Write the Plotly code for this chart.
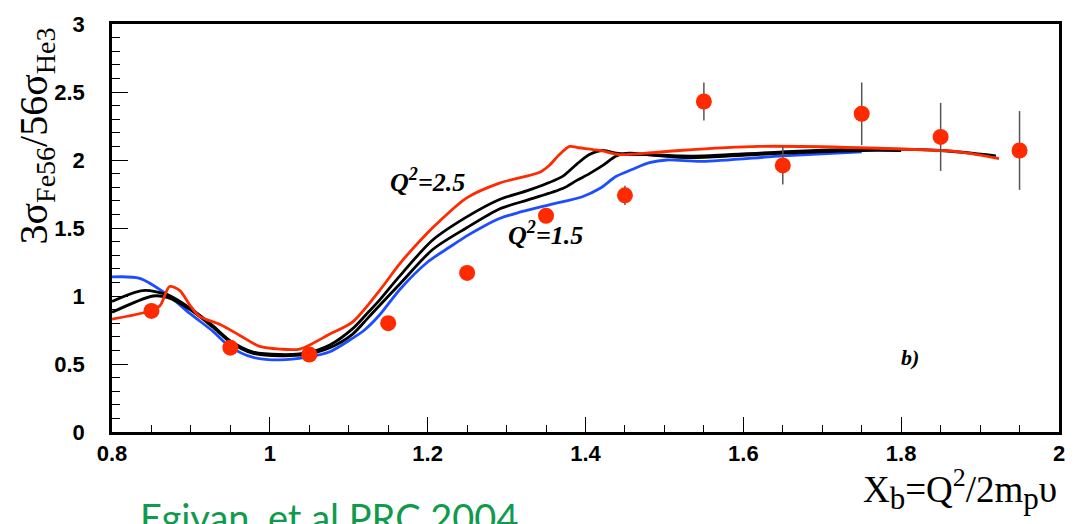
import plotly.graph_objects as go

# ---- data points (Fe56/He3 ratio) ----
data_x = [0.85, 0.95, 1.05, 1.15, 1.25, 1.35, 1.45, 1.55, 1.65, 1.75, 1.85, 1.95]
data_y = [0.89, 0.62, 0.57, 0.80, 1.17, 1.59, 1.74, 2.43, 1.96, 2.34, 2.17, 2.07]
data_err = [0.02, 0.02, 0.02, 0.02, 0.02, 0.02, 0.07, 0.14, 0.14, 0.23, 0.25, 0.29]

# ---- model curves ----
red_x = [0.8, 0.848, 0.861, 0.873, 0.886, 0.899, 0.911, 0.937, 0.962, 0.987, 1.013, 1.038,
         1.076, 1.105, 1.139, 1.165, 1.199, 1.215, 1.249, 1.291, 1.342, 1.354, 1.367, 1.380,
         1.392, 1.418, 1.443, 1.477, 1.519, 1.620, 1.747, 1.873, 1.924]
red_y = [0.83, 0.89, 0.93, 1.07, 1.04, 0.93, 0.85, 0.79, 0.71, 0.63, 0.61, 0.61,
         0.72, 0.81, 1.04, 1.24, 1.46, 1.55, 1.72, 1.83, 1.91, 1.96, 2.04, 2.10,
         2.09, 2.07, 2.04, 2.05, 2.07, 2.10, 2.09, 2.06, 2.01]

black1_x = [0.8, 0.839, 0.870, 0.899, 0.928, 0.95, 0.978, 1.013, 1.045, 1.076, 1.105, 1.123,
            1.139, 1.165, 1.206, 1.249, 1.291, 1.329, 1.371, 1.389, 1.405, 1.422, 1.439,
            1.456, 1.477, 1.519, 1.55, 1.65, 1.75, 1.85, 1.92]
black1_y = [0.96, 1.04, 1.01, 0.91, 0.78, 0.67, 0.59, 0.57, 0.58, 0.64, 0.76, 0.87,
            0.97, 1.15, 1.41, 1.58, 1.71, 1.78, 1.88, 1.97, 2.04, 2.07, 2.05,
            2.04, 2.04, 2.03, 2.03, 2.06, 2.08, 2.07, 2.03]

black2_x = [0.8, 0.852, 0.870, 0.899, 0.928, 0.95, 0.978, 1.013, 1.045, 1.076, 1.105, 1.123,
            1.139, 1.165, 1.206, 1.249, 1.291, 1.329, 1.371, 1.389, 1.405, 1.422, 1.439,
            1.456, 1.477, 1.519, 1.55, 1.65, 1.75, 1.80]
black2_y = [0.88, 1.00, 0.99, 0.90, 0.77, 0.66, 0.58, 0.56, 0.57, 0.62, 0.72, 0.83,
            0.93, 1.09, 1.34, 1.50, 1.64, 1.71, 1.79, 1.85, 1.90, 1.96, 2.03,
            2.05, 2.04, 2.02, 2.02, 2.05, 2.07, 2.07]

blue_x = [0.8, 0.835, 0.87, 0.899, 0.928, 0.949, 0.978, 1.013, 1.047, 1.076, 1.105, 1.120,
          1.139, 1.165, 1.2, 1.228, 1.249, 1.270, 1.291, 1.313, 1.354, 1.396, 1.418, 1.439,
          1.459, 1.481, 1.503, 1.548, 1.65, 1.75]
blue_y = [1.14, 1.13, 1.01, 0.87, 0.74, 0.63, 0.55, 0.53, 0.55, 0.59, 0.69, 0.75,
          0.86, 1.05, 1.25, 1.36, 1.44, 1.51, 1.57, 1.61, 1.67, 1.73, 1.79, 1.88,
          1.93, 1.98, 2.00, 1.99, 2.03, 2.06]

x_ticks = [0.8, 1.0, 1.2, 1.4, 1.6, 1.8, 2.0]
x_ticklabels = ["0.8", "1", "1.2", "1.4", "1.6", "1.8", "2"]
y_ticks = [0, 0.5, 1, 1.5, 2, 2.5, 3]
y_ticklabels = ["0", "0.5", "1", "1.5", "2", "2.5", "3"]

RED = "#ff2a00"
BLUE = "#1e4dff"

fig = go.Figure()

for xs, ys, col in [(blue_x, blue_y, BLUE), (black2_x, black2_y, "black"),
                    (black1_x, black1_y, "black"), (red_x, red_y, RED)]:
    fig.add_trace(go.Scatter(x=xs, y=ys, mode="lines",
                             line=dict(color=col, width=2.8, shape="spline", smoothing=0.8),
                             showlegend=False, hoverinfo="skip"))

fig.add_trace(go.Scatter(
    x=data_x, y=data_y, mode="markers",
    marker=dict(color=RED, size=16, line=dict(width=0)),
    error_y=dict(type="data", array=data_err, visible=True, color="#555555",
                 thickness=1.5, width=0),
    showlegend=False))

axis_common = dict(
    showgrid=False, zeroline=False, showline=True, linecolor="black", linewidth=2.5,
    mirror=True, ticks="inside", tickcolor="black", tickwidth=1.3,
    tickfont=dict(family="Liberation Sans", size=22, color="black", weight="bold"),
)

fig.update_xaxes(range=[0.8, 2.0], tickvals=x_ticks, ticktext=x_ticklabels, ticklen=15,
                 ticklabelstandoff=0,
                 minor=dict(dtick=0.05, ticks="inside", ticklen=7, tickcolor="black", tickwidth=1.3),
                 **axis_common)
fig.update_yaxes(range=[0, 3], tickvals=y_ticks, ticktext=y_ticklabels, ticklen=16,
                 ticklabelstandoff=20,
                 minor=dict(dtick=0.1, ticks="inside", ticklen=8, tickcolor="black", tickwidth=1.3),
                 **axis_common)

serif = "Liberation Serif"
annotations = [
    dict(x=1.20, y=1.85, xref="x", yref="y", showarrow=False,
         xanchor="center", yanchor="middle",
         text="<b><i>Q<sup>2</sup>=2.5</i></b>", font=dict(family=serif, size=26, color="black")),
    dict(x=1.349, y=1.46, xref="x", yref="y", showarrow=False,
         xanchor="center", yanchor="middle",
         text="<b><i>Q<sup>2</sup>=1.5</i></b>", font=dict(family=serif, size=26, color="black")),
    dict(x=1.811, y=0.55, xref="x", yref="y", showarrow=False,
         xanchor="center", yanchor="middle",
         text="<b><i>b)</i></b>", font=dict(family=serif, size=22, color="black")),
    dict(x=-0.08, y=0.725, xref="paper", yref="paper", showarrow=False, textangle=-90,
         xanchor="center", yanchor="middle",
         text="3σ<sub>Fe56</sub>/56σ<sub>He3</sub>",
         font=dict(family=serif, size=40, color="black")),
    dict(x=1.0, y=-0.14, xref="paper", yref="paper", showarrow=False,
         xanchor="right", yanchor="middle",
         text="X<sub><span style='font-size:31px'>b</span></sub>=Q<sup>2</sup>/2m"
              "<sub><span style='font-size:31px'>p</span></sub>υ",
         font=dict(family=serif, size=37, color="black")),
    dict(x=0.027, y=-0.147, xref="paper", yref="paper", showarrow=False,
         xanchor="left", yanchor="top",
         text="Egiyan, et al PRC 2004",
         font=dict(family="Lato", size=38, color="#0f9a4e")),
]

fig.update_layout(
    width=1077, height=524,
    margin=dict(l=112, r=17, t=18, b=92),
    plot_bgcolor="white", paper_bgcolor="white",
    annotations=annotations,
)

fig.write_html("out.html", config={"displayModeBar": False},
               post_script="document.body.style.margin='0';document.body.style.overflow='hidden';")
